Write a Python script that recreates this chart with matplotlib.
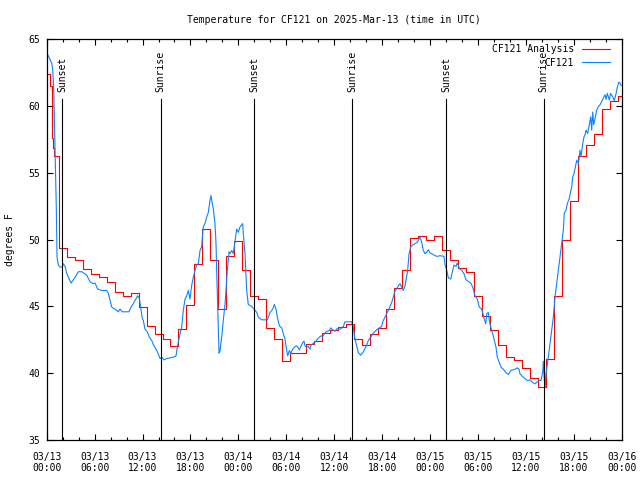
import numpy as np
import matplotlib
matplotlib.use("Agg")
import matplotlib.pyplot as plt
import matplotlib.dates as mdates
import matplotlib.transforms as mtransforms

plt.rcParams['font.family'] = ['DejaVu Sans Mono']
plt.rcParams['font.size'] = 7

title = "Temperature for CF121 on 2025-Mar-13 (time in UTC)"
start = np.datetime64('2025-03-13T00:00')

# analysis: a few sub-hourly steps at the start, then hourly values
red_early_h = [0, 0.46, 0.6, 0.73, 0.86]
red_early_t = [62.4, 61.5, 57.6, 56.9, 56.3]
red_hour = list(range(2, 73))
red_temp = [49.4, 48.7, 48.5, 47.8, 47.4, 47.2, 46.8, 46.1, 45.8, 46.0,
            44.95, 43.57, 42.9, 42.55, 42.05, 43.3, 45.1, 48.2, 50.8, 48.45,
            44.8, 48.8, 49.9, 47.75, 45.8, 45.55, 43.4, 42.55, 40.9, 41.55,
            41.55, 42.2, 42.4, 43.0, 43.25, 43.45, 43.7, 42.6, 42.1, 42.9,
            43.35, 44.8, 46.4, 47.7, 50.15, 50.25, 50.0, 50.3, 49.25, 48.5,
            47.9, 47.6, 45.75, 44.3, 43.2, 42.1, 41.25, 41.0, 40.4, 39.65,
            39.0, 41.1, 45.75, 49.95, 52.9, 56.3, 57.1, 57.9, 59.75, 60.4,
            60.75]

# station observations
blue_h = [0, 0.33, 0.63, 0.75, 0.88, 1.0, 1.13, 1.2, 1.29, 1.45, 1.67, 1.95,
          2.08, 2.29, 2.5, 2.7, 3.04, 3.46, 3.96, 4.38, 5.0, 5.42, 5.84, 6.05,
          6.39, 6.89, 7.51, 7.71, 7.93, 8.14, 8.55, 8.97, 9.18, 9.47, 10.02,
          10.3, 10.56, 10.84, 11.06, 11.39, 11.6, 11.81, 11.97, 12.1, 12.3,
          12.6, 12.85, 13.15, 13.35, 13.69, 13.97, 14.19, 14.4, 14.69, 15.03,
          15.44, 15.85, 16.19, 16.35, 16.6, 16.9, 17.1, 17.32, 17.53, 17.73,
          17.94, 18.16, 18.36, 18.57, 18.78, 18.98, 19.2, 19.4, 19.6, 19.82,
          20.03, 20.24, 20.45, 20.57, 20.7, 20.86, 21.07, 21.2, 21.29, 21.41,
          21.49, 21.58, 21.7, 21.91, 22.11, 22.33, 22.45, 22.61, 22.83, 22.95,
          23.17, 23.37, 23.79, 23.99, 24.2, 24.54, 24.62, 24.83, 24.96, 25.04,
          25.24, 25.67, 25.96, 26.3, 26.5, 26.92, 27.62, 27.75, 27.96, 28.3,
          28.5, 28.71, 28.88, 29.13, 29.43, 29.63, 29.84, 30.05, 30.18, 30.38,
          30.55, 30.8, 31.09, 31.3, 31.5, 31.63, 32.06, 32.22, 32.34, 32.56,
          32.76, 32.97, 33.1, 33.31, 33.47, 33.72, 33.88, 34.14, 34.35, 34.56,
          34.76, 34.97, 35.39, 35.56, 35.81, 36.1, 36.39, 36.73, 37.14, 37.35,
          38.19, 38.39, 38.48, 38.6, 38.82, 39.02, 39.32, 39.64, 39.98, 40.27,
          40.57, 40.9, 41.32, 41.65, 41.95, 42.07, 42.36, 42.57, 42.77, 42.99,
          43.2, 43.4, 43.61, 43.82, 44.03, 44.24, 44.45, 44.65, 44.87, 45.08,
          45.2, 45.37, 45.58, 45.83, 46.12, 46.41, 46.75, 46.96, 47.16, 47.37,
          47.58, 47.78, 48.0, 48.21, 48.62, 48.91, 49.25, 49.75, 49.87, 50.09,
          50.29, 50.59, 50.84, 51.0, 51.25, 51.42, 51.67, 51.97, 52.25, 52.5,
          53.09, 53.34, 53.63, 53.92, 54.17, 54.47, 54.8, 54.97, 55.1, 55.3,
          55.42, 55.6, 55.85, 56.05, 56.26, 56.42, 56.67, 56.89, 57.17, 57.51,
          57.8, 58.1, 58.64, 58.93, 59.14, 59.27, 59.6, 59.89, 60.18, 60.52,
          60.86, 61.14, 61.43, 61.68, 61.9, 62.11, 62.18, 62.3, 62.4, 62.52,
          62.81, 63.02, 63.23, 63.44, 63.65, 63.86, 64.06, 64.27, 64.49, 64.69,
          64.81, 65.03, 65.19, 65.44, 65.74, 65.86, 66.03, 66.15, 66.37, 66.57,
          66.69, 66.78, 66.9, 67.12, 67.28, 67.41, 67.53, 67.74, 67.9, 68.12,
          68.24, 68.37, 68.5, 68.66, 68.87, 69.07, 69.28, 69.5, 69.7, 69.91,
          70.05, 70.2, 70.45, 70.6, 70.87, 71.07, 71.3, 71.46, 71.64, 71.8,
          71.93]
blue_t = [64.0, 63.6, 63.2, 62.7, 61.2, 58.0, 54.7, 52.4, 48.7, 48.1, 47.95, 47.95,
          48.2, 48.0, 47.5, 47.2, 46.75, 47.1, 47.6, 47.6, 47.35, 46.85, 46.7, 46.75,
          46.3, 46.2, 46.2, 46.0, 45.45, 44.95, 44.8, 44.6, 44.8, 44.6, 44.6,
          44.6, 44.95, 45.2, 45.45, 45.8, 45.6, 44.75, 44.1, 43.95, 43.3,
          43.1, 42.7, 42.45, 42.15, 41.8, 41.45, 41.1, 41.2, 41.0, 41.1,
          41.15, 41.2, 41.3, 41.95, 42.7, 43.45, 44.7, 45.55, 45.8, 46.2,
          45.55, 46.6, 47.2, 47.7, 48.1, 48.2, 49.2, 49.45, 50.95, 51.2,
          51.7, 52.05, 52.95, 53.3, 52.8, 52.3, 51.2, 49.7, 47.45, 44.95,
          43.2, 41.5, 41.7, 42.7, 43.95, 45.2, 46.2, 47.7, 49.1, 48.95,
          49.2, 48.95, 50.8, 50.55, 50.95, 51.2, 50.45, 48.95, 47.2, 46.2,
          45.15, 45.0, 44.8, 44.55, 44.2, 44.0, 44.0, 44.2, 44.55, 44.8,
          45.15, 44.8, 44.2, 43.55, 43.4, 42.95, 42.55, 41.7, 41.3, 41.7,
          41.5, 41.8, 42.0, 42.05, 41.9, 41.75, 42.3, 42.4, 42.05, 41.95,
          42.0, 41.8, 42.1, 42.2, 42.3, 42.4, 42.55, 42.7, 42.8, 42.75,
          42.95, 43.1, 43.2, 43.4, 43.25, 43.15, 43.35, 43.3, 43.5, 43.85,
          43.85, 43.45, 43.05, 42.55, 42.05, 41.55, 41.35, 41.6, 42.0, 42.45,
          42.7, 43.0, 43.25, 43.4, 43.5, 43.85, 44.2, 44.45, 44.7, 45.0,
          45.3, 45.7, 46.15, 46.3, 46.55, 46.7, 46.45, 46.2, 46.55, 47.3,
          47.7, 48.95, 49.45, 49.6, 49.7, 49.8, 50.2, 49.8, 49.2, 48.95,
          49.05, 49.25, 49.0, 48.95, 48.8, 48.75, 48.8, 48.75, 48.15, 47.7,
          47.15, 47.05, 47.7, 48.1, 48.0, 48.25, 47.85, 47.7, 47.45, 47.0,
          46.75, 46.45, 45.8, 45.55, 44.95, 44.8, 44.05, 43.7, 44.45, 44.55,
          43.95, 43.45, 42.95, 42.45, 41.95, 41.2, 40.8, 40.45, 40.3, 40.05,
          39.9, 40.2, 40.3, 40.4, 40.3, 39.95, 39.75, 39.6, 39.45, 39.5,
          39.3, 39.2, 39.35, 39.45, 39.45, 40.1, 40.9, 39.6, 38.9, 39.95,
          41.2, 42.2, 43.2, 44.2, 45.7, 46.7, 47.7, 48.7, 49.7, 50.7,
          52.0, 52.2, 52.7, 53.1, 53.95, 54.7, 54.95, 55.3, 55.95, 55.7,
          56.2, 56.7, 56.2, 57.2, 57.7, 57.85, 58.2, 57.95, 58.45, 59.2,
          58.2, 59.55, 58.6, 59.05, 59.7, 59.95, 60.1, 60.35, 60.6, 60.85,
          60.5, 60.95, 60.45, 60.95, 60.7, 60.4, 60.95, 61.45, 61.8, 61.7,
          61.55]

sun_h = [1.97, 14.27, 26.0, 38.25, 50.03, 62.22]
sun_label = ["Sunset", "Sunrise", "Sunset", "Sunrise", "Sunset", "Sunrise"]


def to_time(hours):
    secs = np.round(np.asarray(hours, dtype=float) * 3600).astype('int64')
    return start + secs.astype('timedelta64[s]')


# step edges for the analysis line
edge_h = red_early_h + [h - 0.5 for h in red_hour] + [72]
edge_t = red_early_t + red_temp + [red_temp[-1]]

fig = plt.figure(figsize=(6.4, 4.8), dpi=100)
ax = fig.add_axes([0.073, 0.0833, 0.8984, 0.8348])

ax.plot(to_time(edge_h), edge_t, drawstyle='steps-post', color='#ff0000',
        lw=0.8, label='CF121 Analysis')
ax.plot(to_time(blue_h), blue_t, color='#0a84ff', lw=0.8, label='CF121')

trans = mtransforms.blended_transform_factory(ax.transData, ax.transAxes)
for h, lab in zip(sun_h, sun_label):
    t = to_time([h])[0]
    ax.axvline(t, ymin=0, ymax=0.851, color='black', lw=0.8)
    ax.text(t, 0.868, lab, rotation=90, ha='center', va='bottom',
            transform=trans)

ax.set_xlim(to_time([0])[0], to_time([72])[0])
ax.set_ylim(35, 65)
ax.set_yticks([35, 40, 45, 50, 55, 60, 65])
ax.xaxis.set_major_locator(mdates.HourLocator(byhour=[0, 6, 12, 18]))
ax.xaxis.set_minor_locator(mdates.HourLocator(byhour=range(0, 24, 2)))
ax.xaxis.set_major_formatter(mdates.DateFormatter('%m/%d\n%H:%M'))

ax.tick_params(which='both', direction='in', top=True, right=True,
               width=0.8, labelsize=7)
ax.tick_params(which='major', length=4)
ax.tick_params(which='minor', length=2.5)
ax.tick_params(axis='x', pad=8.5)
ax.tick_params(axis='y', pad=5)
for sp in ax.spines.values():
    sp.set_linewidth(0.9)

ax.set_title(title, fontsize=7, pad=12)
fig.text(10 / 640, 0.5, 'degrees F', rotation=90, ha='center', va='center',
         fontsize=7)

ax.legend(loc='upper right', bbox_to_anchor=(1 - 7.8 / 575, 1 - 1 / 400.7),
          frameon=False, markerfirst=False, handlelength=2.9,
          handletextpad=0.8, borderaxespad=0, borderpad=0.4,
          labelspacing=0.35, fontsize=7)

fig.canvas.draw()
for lbl in ax.get_xticklabels():
    lbl.set_linespacing(1.1)

fig.savefig('out.png', dpi=100)
